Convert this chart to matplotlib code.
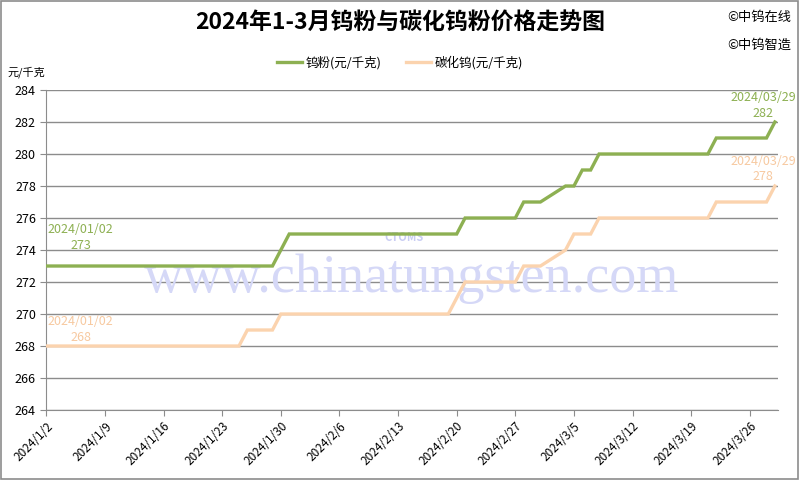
import datetime as dt
import matplotlib
matplotlib.use('Agg')
import matplotlib.pyplot as plt
from matplotlib.patches import Rectangle

plt.rcParams['font.family'] = ['Noto Sans CJK SC', 'DejaVu Sans']

# data (change points only, lines drawn between them)
W_DATES = ['2024-01-02', '2024-01-29', '2024-01-31', '2024-02-20', '2024-02-21',
           '2024-02-27', '2024-02-28', '2024-03-01', '2024-03-04', '2024-03-05',
           '2024-03-06', '2024-03-07', '2024-03-08', '2024-03-21', '2024-03-22',
           '2024-03-28', '2024-03-29']
W_VALUES = [273, 273, 275, 275, 276, 276, 277, 277, 278, 278, 279, 279, 280, 280, 281, 281, 282]

WC_DATES = ['2024-01-02', '2024-01-25', '2024-01-26', '2024-01-29', '2024-01-30',
            '2024-02-19', '2024-02-21', '2024-02-27', '2024-02-28', '2024-03-01',
            '2024-03-04', '2024-03-05', '2024-03-07', '2024-03-08', '2024-03-21',
            '2024-03-22', '2024-03-28', '2024-03-29']
WC_VALUES = [268, 268, 269, 269, 270, 270, 272, 272, 273, 273, 274, 275, 275, 276, 276, 277, 277, 278]

W_LABEL = '钨粉(元/千克)'
WC_LABEL = '碳化钨(元/千克)'
TITLE = '2024年1-3月钨粉与碳化钨粉价格走势图'

GREEN = '#8db052'
PEACH = '#fbd3ae'
PEACH_TXT = '#f7c9a0'
GRID = '#8c8c8c'


def to_dt(s):
    return dt.datetime.strptime(s, '%Y-%m-%d')


w_x = [to_dt(d) for d in W_DATES]
wc_x = [to_dt(d) for d in WC_DATES]

fig = plt.figure(figsize=(8, 4.8), dpi=100)
ax = fig.add_axes([0.0571, 0.1458, 0.915, 0.6667])

ax.plot(w_x, W_VALUES, color=GREEN, lw=2.4, label=W_LABEL, solid_joinstyle='miter', zorder=3)
ax.plot(wc_x, WC_VALUES, color=PEACH, lw=2.4, label=WC_LABEL, solid_joinstyle='miter', zorder=3)

start = to_dt('2024-01-02')
end = to_dt('2024-03-29')
ax.set_xlim(start - dt.timedelta(hours=2), end + dt.timedelta(hours=8))
ax.set_ylim(264, 284)
ax.set_yticks(range(264, 285, 2))

ticks = [start + dt.timedelta(days=7 * i) for i in range(13)]
ax.set_xticks(ticks)
ax.set_xticklabels([f'{t.year}/{t.month}/{t.day}' for t in ticks], rotation=45,
                   ha='right', va='top', rotation_mode='anchor', fontsize=8.5)
ax.tick_params(axis='y', labelsize=9, length=4, color=GRID, pad=3)
ax.tick_params(axis='x', length=4, color=GRID, pad=3)

ax.grid(axis='y', color=GRID, lw=1)
ax.set_axisbelow(True)
for side in ['top', 'right']:
    ax.spines[side].set_visible(False)
for side in ['left', 'bottom']:
    ax.spines[side].set_color(GRID)

# watermark
ax.text(0.5, 0.41, 'www.chinatungsten.com', transform=ax.transAxes, ha='center', va='center',
        fontsize=39, family='Liberation Serif', color='#d5d8f7', zorder=1)
ax.text(0.49, 0.54, 'CTOMS', transform=ax.transAxes, ha='center', va='center',
        fontsize=8, fontstyle='italic', fontweight='bold', color='#c9cdf3', zorder=1)

# point annotations
ax.annotate('2024/01/02', (w_x[0], W_VALUES[0]), xytext=(1, 26), textcoords='offset points',
            ha='left', va='center', fontsize=9, color=GREEN)
ax.annotate('273', (w_x[0], W_VALUES[0]), xytext=(17, 14.5), textcoords='offset points',
            ha='left', va='center', fontsize=9, color=GREEN)
ax.annotate('2024/01/02', (wc_x[0], WC_VALUES[0]), xytext=(1, 17.5), textcoords='offset points',
            ha='left', va='center', fontsize=9, color=PEACH_TXT)
ax.annotate('268', (wc_x[0], WC_VALUES[0]), xytext=(17, 6), textcoords='offset points',
            ha='left', va='center', fontsize=9, color=PEACH_TXT)
ax.annotate('2024/03/29', (w_x[-1], W_VALUES[-1]), xytext=(15, 17.5), textcoords='offset points',
            ha='right', va='center', fontsize=9, color=GREEN, annotation_clip=False)
ax.annotate('282', (w_x[-1], W_VALUES[-1]), xytext=(-1, 6), textcoords='offset points',
            ha='right', va='center', fontsize=9, color=GREEN, annotation_clip=False)
ax.annotate('2024/03/29', (wc_x[-1], WC_VALUES[-1]), xytext=(15, 18), textcoords='offset points',
            ha='right', va='center', fontsize=9, color=PEACH_TXT, annotation_clip=False)
ax.annotate('278', (wc_x[-1], WC_VALUES[-1]), xytext=(-1, 6.5), textcoords='offset points',
            ha='right', va='center', fontsize=9, color=PEACH_TXT, annotation_clip=False)

fig.text(0.5, 0.952, TITLE, ha='center', va='center', fontsize=16.5, fontweight='bold')
fig.text(0.01, 0.85, '元/千克', ha='left', va='center', fontsize=8)
fig.text(0.909, 0.963, '©中钨在线', ha='left', va='center', fontsize=9.5)
fig.text(0.909, 0.905, '©中钨智造', ha='left', va='center', fontsize=9.5)

fig.legend(loc='center', bbox_to_anchor=(0.5, 0.87), ncol=2, frameon=False, fontsize=9,
           handlelength=2.0, columnspacing=2.0, handletextpad=0.3)

fig.add_artist(Rectangle((0.001, 0.002), 0.997, 0.995, transform=fig.transFigure,
                         fill=False, edgecolor='#8c8c8c', lw=1.2))

fig.savefig('out.png', dpi=100)
